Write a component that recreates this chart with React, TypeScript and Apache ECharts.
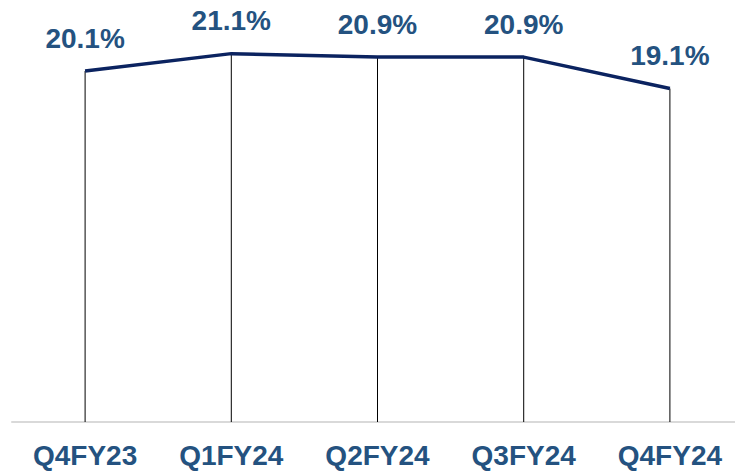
import React, { useEffect, useRef } from "react";
import * as echarts from "echarts";

const categories = ["Q4FY23", "Q1FY24", "Q2FY24", "Q3FY24", "Q4FY24"];
const values = [20.1, 21.1, 20.9, 20.9, 19.1];

const FONT = "'Liberation Sans', Arial, Helvetica, sans-serif";
const LABEL_COLOR = "#245280";

export default function App() {
  const ref = useRef<HTMLDivElement>(null);
  useEffect(() => {
    if (!ref.current) return;
    const chart = echarts.init(ref.current, null, { renderer: "svg" });
    chart.setOption({
      animation: false,
      backgroundColor: "#ffffff",
      grid: { left: 12, right: 2, top: 3, bottom: 54, containLabel: false },
      xAxis: {
        type: "category",
        data: categories,
        boundaryGap: true,
        axisLine: { show: true, lineStyle: { color: "#D9D9D9", width: 2 } },
        axisTick: { show: false },
        splitLine: { show: false },
        axisLabel: {
          color: LABEL_COLOR,
          fontFamily: FONT,
          fontWeight: "bold",
          fontSize: 28,
          margin: 19,
        },
      },
      yAxis: {
        type: "value",
        min: 0,
        max: 24,
        show: false,
        splitLine: { show: false },
      },
      series: [
        {
          type: "bar",
          data: values,
          barWidth: 1,
          itemStyle: { color: "#000000" },
          silent: true,
          z: 1,
        },
        {
          type: "line",
          data: values,
          symbol: "circle",
          symbolSize: 0,
          showSymbol: true,
          itemStyle: { color: "#0B2360" },
          lineStyle: { color: "#0B2360", width: 3.5 },
          z: 3,
          label: {
            show: true,
            position: "top",
            distance: 19,
            formatter: (p: any) => Number(p.value).toFixed(1) + "%",
            color: LABEL_COLOR,
            fontFamily: FONT,
            fontWeight: "bold",
            fontSize: 28,
          },
        },
      ],
    });
    return () => chart.dispose();
  }, []);
  return (
    <div
      ref={ref}
      style={{ position: "fixed", left: 0, top: 0, width: 745, height: 476 }}
    />
  );
}
